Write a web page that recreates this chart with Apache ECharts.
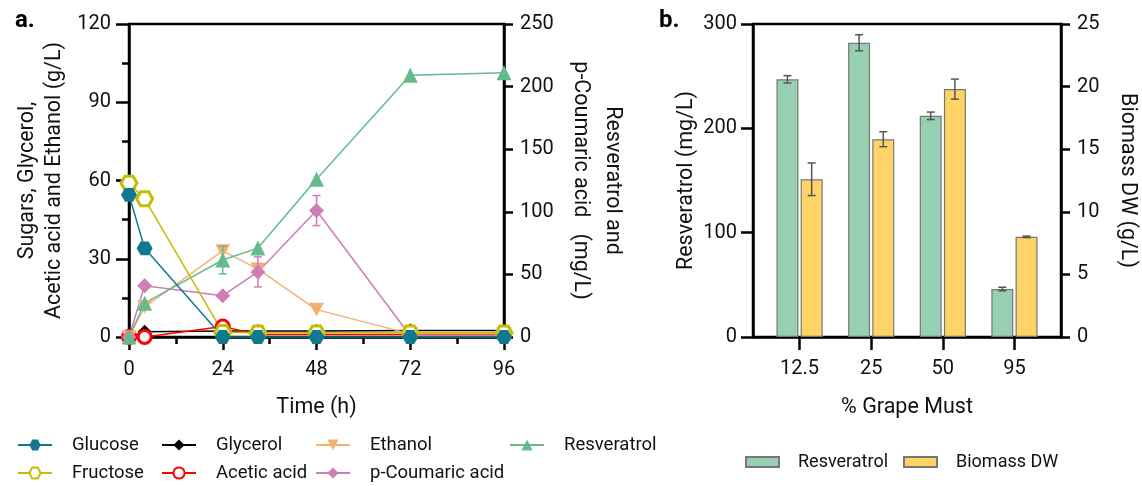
<!DOCTYPE html>
<html>
<head>
<meta charset="utf-8">
<script src="https://cdn.jsdelivr.net/npm/echarts@6/dist/echarts.min.js"></script>
<style>
  html, body { margin: 0; padding: 0; background: #fff; }
  #chart { width: 1142px; height: 486px; }
</style>
</head>
<body>
<div id="chart"></div>
<script>
// ---- panel a: fermentation time course ----
const timeH = [0, 4, 24, 33, 48, 72, 96]
const glucose = [54.5, 34, 0, 0, 0, 0, 0]
const fructose = [59, 53, 1.8, 1.6, 1.6, 1.6, 1.6]
const glycerol = [0, 2, 2.3, 2.3, 2.3, 2.5, 2.5]
const aceticAcid = [0, 0, 4, 1, 1, 1, 1]
const ethanol = [0, 11.5, 33, 26, 10.5, 1.2, 1.2]
const resveratrol = [0, 27, 61.5, 71, 126, 209, 211]
const resveratrolErr = [0, 0, 11, 0, 0, 0, 0]
const coumaric = [0, 41, 33, 52, 101, 1, 1]
const coumaricErr = [0, 0, 0, 12, 12, 0, 0]

// ---- panel b: grape must ----
const mustCats = ['12.5', '25', '50', '95']
const resvBars = [247, 282, 212, 46]
const resvBarsErr = [3.5, 7.7, 3.6, 1.7]
const biomassBars = [12.6, 15.8, 19.8, 8.0]
const biomassBarsErr = [1.3, 0.6, 0.8, 0.06]

const FONT = 'Roboto, "Liberation Sans", sans-serif'
const HEX = 'path://M-1,0L-0.5,-0.866L0.5,-0.866L1,0L0.5,0.866L-0.5,0.866Z'
const BAR_W = 22
const BAR_GAP = 0.1

function pairs(xs, ys) {
    return xs.map((x, i) => [x, ys[i]])
}
function errData(xs, ys, es) {
    let out = []
    for (let i = 0; i < xs.length; i++) {
        if (es[i] > 0) out.push([xs[i], ys[i], es[i]])
    }
    return out
}
function errRender(offset, color, cap) {
    return function (params, api) {
        const x = api.value(0), v = api.value(1), e = api.value(2)
        const top = api.coord([x, v + e])
        const bot = api.coord([x, v - e])
        const cx = top[0] + offset
        const st = { stroke: color, lineWidth: 1.5 }
        return {
            type: 'group',
            children: [
                { type: 'line', shape: { x1: cx, y1: top[1], x2: cx, y2: bot[1] }, style: st },
                { type: 'line', shape: { x1: cx - cap, y1: top[1], x2: cx + cap, y2: top[1] }, style: st },
                { type: 'line', shape: { x1: cx - cap, y1: bot[1], x2: cx + cap, y2: bot[1] }, style: st }
            ]
        }
    }
}
function lineSeries(name, data, yIdx, color, symbol, size, hollow) {
    return {
        name: name,
        type: 'line',
        xAxisIndex: 0,
        yAxisIndex: yIdx,
        data: pairs(timeH, data),
        symbol: symbol,
        symbolSize: size,
        symbolKeepAspect: true,
        showAllSymbol: true,
        clip: false,
        lineStyle: { color: color, width: 1.5 },
        itemStyle: hollow
            ? { color: '#fff', borderColor: color, borderWidth: 3 }
            : { color: color },
        emphasis: { disabled: true }
    }
}

const axisTxt = { fontFamily: FONT, fontSize: 20, color: '#111' }
const nameTxt = { fontFamily: FONT, fontSize: 21.5, color: '#111' }
const blackLine = { show: true, onZero: false, lineStyle: { color: '#000', width: 2.5 } }

const legendCommon = {
    orient: 'vertical',
    padding: 0,
    itemWidth: 34,
    itemHeight: 14,
    itemGap: 8,
    textStyle: { fontFamily: FONT, fontSize: 18.5, color: '#111', lineHeight: 20, padding: [0, 0, 0, 15] },
    selectedMode: false
}
const barLegend = {
    top: 453, padding: 0, itemWidth: 33, itemHeight: 10, selectedMode: false,
    textStyle: { fontFamily: FONT, fontSize: 18, color: '#111', padding: [0, 0, 0, 14] }
}

const option = {
    animation: false,
    backgroundColor: '#fff',
    title: [
        { text: 'a.', left: 10, top: 4, textStyle: { fontFamily: FONT, fontSize: 24, fontWeight: 'bold', color: '#000' } },
        { text: 'b.', left: 654, top: 4, textStyle: { fontFamily: FONT, fontSize: 24, fontWeight: 'bold', color: '#000' } }
    ],
    legend: [
        Object.assign({ left: 17, top: 435, data: ['Glucose', 'Fructose'] }, legendCommon),
        Object.assign({ left: 161, top: 435, data: ['Glycerol', 'Acetic acid'] }, legendCommon),
        Object.assign({ left: 315, top: 435, data: ['Ethanol', 'p-Coumaric acid'] }, legendCommon),
        Object.assign({ left: 509, top: 435, data: ['Resveratrol'] }, legendCommon),
        Object.assign({ left: 745, data: [{ name: 'Resveratrol ', icon: 'rect' }] }, barLegend),
        Object.assign({ left: 903, data: [{ name: 'Biomass DW', icon: 'rect' }] }, barLegend)
    ],
    grid: [
        { left: 129, right: 638, top: 24, bottom: 149, show: true, borderColor: '#000', borderWidth: 2.5, backgroundColor: 'transparent' },
        { left: 753, right: 81, top: 24, bottom: 149, show: true, borderColor: '#000', borderWidth: 2.5, backgroundColor: 'transparent' }
    ],
    xAxis: [
        {
            gridIndex: 0, type: 'value', min: 0, max: 96, interval: 24,
            name: 'Time (h)', nameLocation: 'middle', nameGap: 60, nameTextStyle: nameTxt, nameMoveOverlap: false,
            axisLine: blackLine,
            axisTick: { show: true, length: 13, lineStyle: { color: '#000', width: 2.5 } },
            minorTick: { show: true, splitNumber: 2, length: 7, lineStyle: { color: '#000', width: 2.5 } },
            axisLabel: Object.assign({ margin: 23 }, axisTxt),
            splitLine: { show: false }
        },
        {
            gridIndex: 1, type: 'value', min: -0.65, max: 3.65,
            name: '% Grape Must', nameLocation: 'middle', nameGap: 60, nameTextStyle: nameTxt, nameMoveOverlap: false,
            axisLine: blackLine,
            axisTick: { show: true, length: 13, customValues: [0, 1, 2, 3], lineStyle: { color: '#000', width: 2.5 } },
            axisLabel: Object.assign({ margin: 22, customValues: [0, 1, 2, 3], formatter: v => mustCats[Math.round(v)] }, axisTxt),
            splitLine: { show: false }
        }
    ],
    yAxis: [
        {
            gridIndex: 0, type: 'value', min: 0, max: 120, interval: 30,
            name: 'Sugars, Glycerol,\nAcetic acid and Ethanol (g/L)', nameLocation: 'middle', nameRotate: 90, nameGap: 61,
            nameTextStyle: Object.assign({ lineHeight: 27 }, nameTxt), nameMoveOverlap: false,
            axisLine: blackLine,
            axisTick: { show: true, length: 13, lineStyle: { color: '#000', width: 2.5 } },
            minorTick: { show: true, splitNumber: 2, length: 7, lineStyle: { color: '#000', width: 2.5 } },
            axisLabel: Object.assign({ margin: 18 }, axisTxt),
            splitLine: { show: false }
        },
        {
            gridIndex: 0, type: 'value', min: 0, max: 250, interval: 50, position: 'right',
            name: 'Resveratrol and\np-Coumaric acid   (mg/L)', nameLocation: 'middle', nameRotate: -90, nameGap: 60,
            nameTextStyle: Object.assign({ lineHeight: 32 }, nameTxt), nameMoveOverlap: false,
            axisLine: blackLine,
            axisTick: { show: true, length: 9, lineStyle: { color: '#000', width: 2.5 } },
            axisLabel: Object.assign({ margin: 16 }, axisTxt),
            splitLine: { show: false }
        },
        {
            gridIndex: 1, type: 'value', min: 0, max: 300, interval: 100,
            name: 'Resveratrol (mg/L)', nameLocation: 'middle', nameRotate: 90, nameGap: 55,
            nameTextStyle: nameTxt, nameMoveOverlap: false,
            axisLine: blackLine,
            axisTick: { show: true, length: 12, lineStyle: { color: '#000', width: 2.5 } },
            axisLabel: Object.assign({ margin: 16 }, axisTxt),
            splitLine: { show: false }
        },
        {
            gridIndex: 1, type: 'value', min: 0, max: 25, interval: 5, position: 'right',
            name: 'Biomass DW (g/L)', nameLocation: 'middle', nameRotate: -90, nameGap: 55,
            nameTextStyle: nameTxt, nameMoveOverlap: false,
            axisLine: blackLine,
            axisTick: { show: true, length: 9, lineStyle: { color: '#000', width: 2.5 } },
            axisLabel: Object.assign({ margin: 16 }, axisTxt),
            splitLine: { show: false }
        }
    ],
    series: [
        lineSeries('Glycerol', glycerol, 0, '#000000', 'diamond', 14, false),
        lineSeries('Acetic acid', aceticAcid, 0, '#ff0000', 'circle', 13, true),
        lineSeries('Ethanol', ethanol, 0, '#f4b072', 'path://M-1,-0.9L1,-0.9L0,0.9Z', 15, false),
        lineSeries('p-Coumaric acid', coumaric, 1, '#cf7db5', 'diamond', 15, false),
        lineSeries('Resveratrol', resveratrol, 1, '#66bb8e', 'triangle', 15, false),
        lineSeries('Fructose', fructose, 0, '#c5bd00', HEX, 16, true),
        lineSeries('Glucose', glucose, 0, '#0f7a8e', HEX, 16, false),
        {
            type: 'custom', xAxisIndex: 0, yAxisIndex: 1, z: 5,
            data: errData(timeH, resveratrol, resveratrolErr),
            renderItem: errRender(0, '#66bb8e', 4)
        },
        {
            type: 'custom', xAxisIndex: 0, yAxisIndex: 1, z: 5,
            data: errData(timeH, coumaric, coumaricErr),
            renderItem: errRender(0, '#cf7db5', 4)
        },
        {
            name: 'Resveratrol ', type: 'bar', xAxisIndex: 1, yAxisIndex: 2,
            data: pairs([0, 1, 2, 3], resvBars),
            barWidth: BAR_W, barGap: (BAR_GAP * 100) + '%',
            itemStyle: { color: '#97cfb2', borderColor: '#777', borderWidth: 1.2 },
            emphasis: { disabled: true }
        },
        {
            name: 'Biomass DW', type: 'bar', xAxisIndex: 1, yAxisIndex: 3,
            data: pairs([0, 1, 2, 3], biomassBars),
            barWidth: BAR_W, barGap: (BAR_GAP * 100) + '%',
            itemStyle: { color: '#ffd466', borderColor: '#777', borderWidth: 1.2 },
            emphasis: { disabled: true }
        },
        {
            type: 'custom', xAxisIndex: 1, yAxisIndex: 2, z: 5,
            data: errData([0, 1, 2, 3], resvBars, resvBarsErr),
            renderItem: errRender(-(BAR_W * (1 + BAR_GAP)) / 2, '#555', 4)
        },
        {
            type: 'custom', xAxisIndex: 1, yAxisIndex: 3, z: 5,
            data: errData([0, 1, 2, 3], biomassBars, biomassBarsErr),
            renderItem: errRender((BAR_W * (1 + BAR_GAP)) / 2, '#555', 4)
        }
    ]
}

const chart = echarts.init(document.getElementById('chart'))
chart.setOption(option)
window.addEventListener('resize', () => {
    chart.resize()
})
</script>
</body>
</html>
